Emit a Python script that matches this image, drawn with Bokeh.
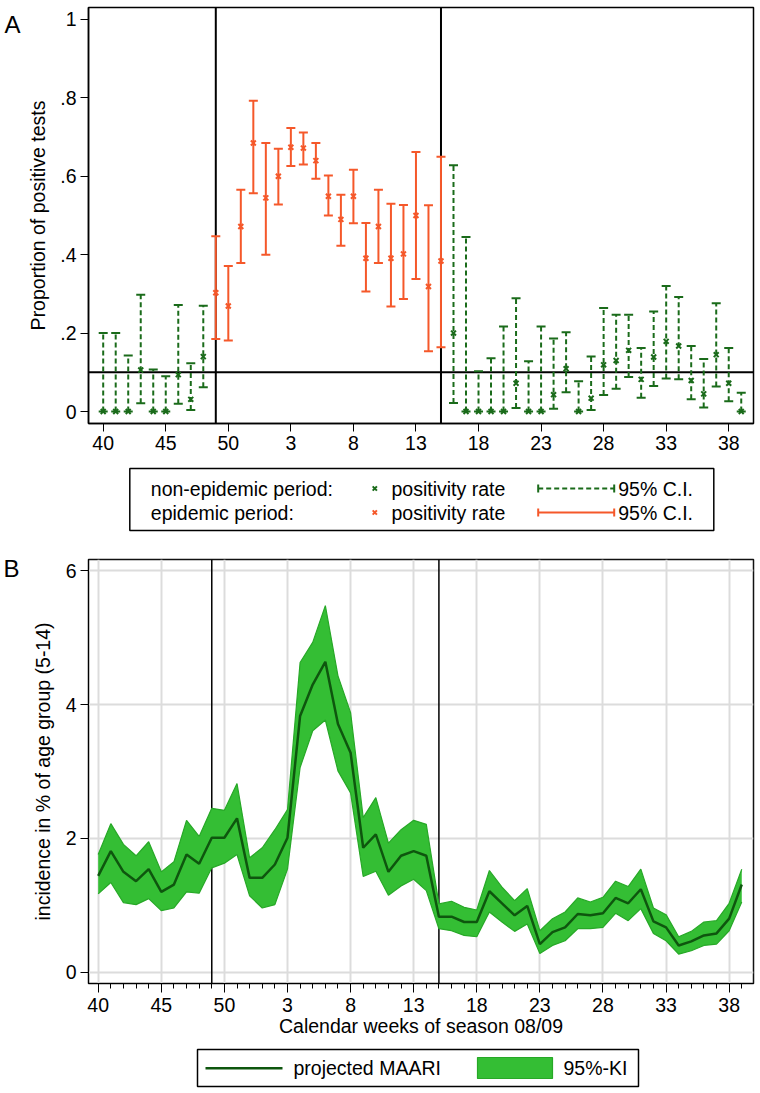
from bokeh.plotting import figure
from bokeh.layouts import column
from bokeh.models import (FixedTicker, CustomJSTickFormatter, Span, Range1d,
                          ColumnDataSource, LinearAxis)
from bokeh.embed import file_html
from bokeh.resources import INLINE
from bokeh.core.properties import value

# ---------------- data ----------------
weeks = [40, 41, 42, 43, 44, 45, 46, 47, 48, 49, 50, 51, 52,
         1, 2, 3, 4, 5, 6, 7, 8, 9, 10, 11, 12, 13, 14, 15, 16, 17, 18, 19, 20,
         21, 22, 23, 24, 25, 26, 27, 28, 29, 30, 31, 32, 33, 34, 35, 36, 37, 38, 39]
epi_start_week = 49
epi_end_week = 15
threshold = 0.10

pos_rate = [0, 0, 0, 0.106, 0, 0, 0.094, 0.031, 0.14,
            0.303, 0.269, 0.472, 0.685, 0.545, 0.60, 0.674, 0.672, 0.64, 0.549,
            0.49, 0.549, 0.391, 0.472, 0.391, 0.402, 0.50, 0.319, 0.384,
            0.20, 0, 0, 0, 0, 0.072, 0, 0, 0.043, 0.109, 0, 0.034, 0.119, 0.13,
            0.156, 0.082, 0.139, 0.179, 0.167, 0.079, 0.045, 0.145, 0.072, 0]
ci_lo = [0, 0, 0, 0.021, 0, 0, 0.02, 0.004, 0.062,
         0.185, 0.181, 0.379, 0.557, 0.40, 0.528, 0.626, 0.63, 0.594, 0.50,
         0.423, 0.48, 0.306, 0.379, 0.268, 0.287, 0.338, 0.154, 0.164,
         0.022, 0, 0, 0, 0, 0.009, 0, 0, 0.007, 0.049, 0, 0.004, 0.042, 0.058,
         0.088, 0.035, 0.065, 0.084, 0.082, 0.031, 0.01, 0.064, 0.026, 0]
ci_hi = [0.20, 0.20, 0.143, 0.298, 0.107, 0.09, 0.272, 0.123, 0.27,
         0.447, 0.371, 0.566, 0.793, 0.685, 0.67, 0.723, 0.712, 0.685, 0.602,
         0.553, 0.617, 0.481, 0.566, 0.53, 0.527, 0.662, 0.526, 0.65,
         0.628, 0.445, 0.103, 0.136, 0.217, 0.289, 0.128, 0.217, 0.186, 0.202,
         0.077, 0.14, 0.264, 0.247, 0.247, 0.162, 0.255, 0.32, 0.292, 0.167,
         0.134, 0.276, 0.162, 0.048]

maari = [1.44, 1.81, 1.50, 1.36, 1.54, 1.20, 1.31, 1.76, 1.62, 2.01,
         2.01, 2.30, 1.41, 1.41, 1.61, 2.01, 3.83, 4.30, 4.64, 3.71,
         3.28, 1.86, 2.06, 1.50, 1.74, 1.81, 1.74, 0.83, 0.83, 0.75,
         0.75, 1.21, 1.03, 0.85, 0.99, 0.42, 0.60, 0.67, 0.87, 0.85,
         0.88, 1.11, 1.03, 1.24, 0.76, 0.67, 0.40, 0.46, 0.55, 0.58,
         0.80, 1.31]
ki_hi = [1.76, 2.22, 1.91, 1.74, 1.95, 1.50, 1.65, 2.27, 2.03, 2.45,
         2.42, 2.82, 1.71, 1.86, 2.13, 2.43, 4.63, 4.93, 5.48, 4.43,
         3.88, 2.31, 2.61, 1.93, 2.13, 2.27, 2.21, 1.02, 1.06, 0.97,
         0.93, 1.52, 1.27, 1.07, 1.25, 0.62, 0.80, 0.90, 1.11, 1.05,
         1.12, 1.36, 1.28, 1.54, 0.96, 0.86, 0.53, 0.61, 0.75, 0.77,
         1.03, 1.54]
ki_lo = [1.17, 1.34, 1.04, 1.01, 1.10, 0.92, 0.96, 1.20, 1.18, 1.56,
         1.63, 1.76, 1.14, 0.96, 1.01, 1.54, 3.06, 3.61, 3.77, 3.01,
         2.68, 1.43, 1.51, 1.15, 1.29, 1.39, 1.22, 0.65, 0.62, 0.55,
         0.53, 0.90, 0.75, 0.61, 0.72, 0.28, 0.40, 0.47, 0.65, 0.65,
         0.67, 0.88, 0.77, 0.95, 0.58, 0.47, 0.27, 0.32, 0.40, 0.42,
         0.62, 1.05]

ytick_a = [0, 0.2, 0.4, 0.6, 0.8, 1.0]
ytick_b = [0, 2, 4, 6]

# ---------------- style ----------------
FONT = "Liberation Sans"
FS = "19.5px"
ORANGE = "#F5582A"
DKGREEN = "#1A6B1A"
BAND = "#34BE34"
BAND_EDGE = "#27A827"
LINE = "#0E560E"

# common horizontal frame geometry (page pixels)
FL, FR, PW = 87, 752, 760

n = len(weeks)
xi = list(range(n))
i0 = weeks.index(epi_start_week)
i1 = weeks.index(epi_end_week)
is_epi = [i0 <= i <= i1 for i in xi]
major_x = xi[::5]
x_over = {i: str(weeks[i]) for i in major_x}


def base_fig(height_top, frame_h, height_bottom, xr, yr, axes=True):
    kw = dict(frame_width=FR - FL, frame_height=frame_h, x_range=xr, y_range=yr,
              min_border_left=FL, min_border_right=PW - FR,
              min_border_top=height_top, min_border_bottom=height_bottom,
              output_backend="svg", toolbar_location=None)
    if not axes:
        kw.update(x_axis_location=None, y_axis_location=None)
    p = figure(**kw)
    if not axes:
        p.grid.visible = False
        p.outline_line_color = None
    return p


def style_axes(p):
    for ax in (p.xaxis[0], p.yaxis[0]):
        ax.major_label_text_font = FONT
        ax.major_label_text_font_size = FS
        ax.major_label_text_color = "black"
        ax.axis_label_text_font = FONT
        ax.axis_label_text_font_size = FS
        ax.axis_label_text_font_style = "normal"
        ax.axis_label_text_color = "black"
        ax.axis_line_color = "black"
        ax.major_tick_line_color = "black"
        ax.major_tick_in = 0


def panel_letter(p, letter, yval, standoff):
    ax = LinearAxis(ticker=FixedTicker(ticks=[yval]),
                    formatter=CustomJSTickFormatter(code="return '%s';" % letter))
    ax.axis_line_color = None
    ax.major_tick_line_color = None
    ax.minor_tick_line_color = None
    ax.major_tick_out = 0
    ax.major_tick_in = 0
    ax.major_label_standoff = standoff
    ax.major_label_text_font = FONT
    ax.major_label_text_font_size = "24px"
    ax.major_label_text_color = "black"
    p.add_layout(ax, "left")


# ---------------- panel A ----------------
pa = base_fig(7, 416, 37, Range1d(-1.175, 51.98), Range1d(-0.0306, 1.0306))
pa.grid.visible = False
pa.outline_line_color = "black"
pa.outline_line_width = 1.5
style_axes(pa)
pa.xaxis.ticker = FixedTicker(ticks=major_x)
pa.xaxis.major_label_overrides = x_over
pa.xaxis.minor_tick_line_color = None
pa.xaxis.major_tick_out = 8
pa.xaxis.major_label_standoff = 4
pa.xaxis.axis_line_width = 1.5
pa.yaxis.ticker = FixedTicker(ticks=ytick_a)
pa.yaxis.formatter = CustomJSTickFormatter(
    code="if (Math.abs(tick) < 1e-9) return '0'; if (Math.abs(tick-1) < 1e-9) return '1'; return tick.toFixed(1).replace(/^0/, '');")
pa.yaxis.minor_tick_line_color = None
pa.yaxis.major_tick_out = 8
pa.yaxis.major_label_standoff = 4
pa.yaxis.axis_line_width = 1.5
pa.yaxis.axis_label = "Proportion of positive tests"
pa.yaxis.axis_label_standoff = 8
panel_letter(pa, "A", 0.9885, 4)

for loc in (i0, i1):
    pa.add_layout(Span(location=loc, dimension="height", line_color="black", line_width=2, level="underlay"))
pa.add_layout(Span(location=threshold, dimension="width", line_color="black", line_width=2, level="underlay"))

for flag, color, dash in ((False, DKGREEN, "5 3"), (True, ORANGE, "solid")):
    sel = [i for i in xi if is_epi[i] == flag]
    src = ColumnDataSource(dict(x=sel, r=[pos_rate[i] for i in sel],
                                lo=[ci_lo[i] for i in sel], hi=[ci_hi[i] for i in sel]))
    pa.segment(x0="x", y0="lo", x1="x", y1="hi", source=src, line_color=color, line_width=2, line_dash=dash)
    pa.scatter("x", "lo", source=src, marker="dash", size=9, line_color=color, line_width=2)
    pa.scatter("x", "hi", source=src, marker="dash", size=9, line_color=color, line_width=2)
    pa.scatter("x", "r", source=src, marker="x", size=7, line_color=color, line_width=2)

# ---------------- legend A (coordinates in page pixels) ----------------
la = base_fig(0, 80, 0, Range1d(FL, FR), Range1d(540, 460), axes=False)
la.quad(left=[128.3], right=[712.3], top=[468], bottom=[530], fill_color=None,
        line_color="black", line_width=1.5)
rows_y = [488, 512]
la.text(x=[149.3, 149.3], y=rows_y, text=["non-epidemic period:", "epidemic period:"],
        text_font=value(FONT), text_font_size=FS, text_baseline="middle", text_color="black")
la.scatter(x=[373.3, 373.3], y=rows_y, marker="x", size=6, line_width=2, line_color=[DKGREEN, ORANGE])
la.text(x=[390, 390], y=rows_y, text=["positivity rate", "positivity rate"],
        text_font=value(FONT), text_font_size=FS, text_baseline="middle", text_color="black")
for yy, color, dash in ((rows_y[0], DKGREEN, "5 3"), (rows_y[1], ORANGE, "solid")):
    la.segment(x0=[536.7], y0=[yy], x1=[612.7], y1=[yy], line_color=color, line_width=2, line_dash=dash)
    la.segment(x0=[536.7, 612.7], y0=[yy - 4, yy - 4], x1=[536.7, 612.7], y1=[yy + 4, yy + 4],
               line_color=color, line_width=2)
la.text(x=[616.7, 616.7], y=rows_y, text=["95% C.I.", "95% C.I."],
        text_font=value(FONT), text_font_size=FS, text_baseline="middle", text_color="black")

# ---------------- panel B ----------------
pb = base_fig(19, 424, 59, Range1d(-0.769, 51.93), Range1d(-0.169, 6.169))
pb.outline_line_color = "#111111"
pb.outline_line_width = 1.5
style_axes(pb)
pb.xaxis.ticker = FixedTicker(ticks=major_x, minor_ticks=xi)
pb.xaxis.major_label_overrides = x_over
pb.xaxis.major_tick_out = 9
pb.xaxis.minor_tick_out = 5
pb.xaxis.minor_tick_in = 0
pb.xaxis.minor_tick_line_color = "black"
pb.xaxis.major_label_standoff = 5
pb.xaxis.axis_label = "Calendar weeks of season 08/09"
pb.xaxis.axis_label_standoff = 0
pb.yaxis.ticker = FixedTicker(ticks=ytick_b)
pb.yaxis.minor_tick_line_color = None
pb.yaxis.major_tick_out = 8
pb.yaxis.major_label_standoff = 4
pb.yaxis.axis_label = "incidence in % of age group (5-14)"
pb.yaxis.axis_label_standoff = 9
pb.xgrid.ticker = FixedTicker(ticks=major_x)
pb.ygrid.ticker = FixedTicker(ticks=ytick_b)
pb.grid.grid_line_color = "#DCDCDC"
pb.grid.grid_line_width = 2
panel_letter(pb, "B", 6.03, 9)

for loc in (i0, i1):
    pb.add_layout(Span(location=loc, dimension="height", line_color="black", line_width=1.5, level="underlay"))

srcb = ColumnDataSource(dict(x=xi, m=maari, lo=ki_lo, hi=ki_hi))
pb.varea(x="x", y1="lo", y2="hi", source=srcb, fill_color=BAND)
pb.line("x", "hi", source=srcb, line_color=BAND_EDGE, line_width=1.2)
pb.line("x", "lo", source=srcb, line_color=BAND_EDGE, line_width=1.2)
pb.line("x", "m", source=srcb, line_color=LINE, line_width=2.5)

# ---------------- legend B (coordinates in page pixels) ----------------
lb = base_fig(0, 51, 0, Range1d(FL, FR), Range1d(1093, 1042), axes=False)
lb.quad(left=[196], right=[637], top=[1049], bottom=[1086], fill_color=None,
        line_color="black", line_width=1.5)
lb.segment(x0=[204], y0=[1067.7], x1=[281], y1=[1067.7], line_color=LINE, line_width=2.5)
lb.text(x=[292], y=[1067.7], text=["projected MAARI"], text_font=value(FONT), text_font_size=FS,
        text_baseline="middle", text_color="black")
lb.quad(left=[476], right=[551], top=[1057], bottom=[1078], fill_color=BAND, line_color=BAND_EDGE, line_width=1.2)
lb.text(x=[562], y=[1067.7], text=["95%-KI"], text_font=value(FONT), text_font_size=FS,
        text_baseline="middle", text_color="black")

layout = column(pa, la, pb, lb, spacing=0)
open("out.html", "w").write(file_html(layout, INLINE))
